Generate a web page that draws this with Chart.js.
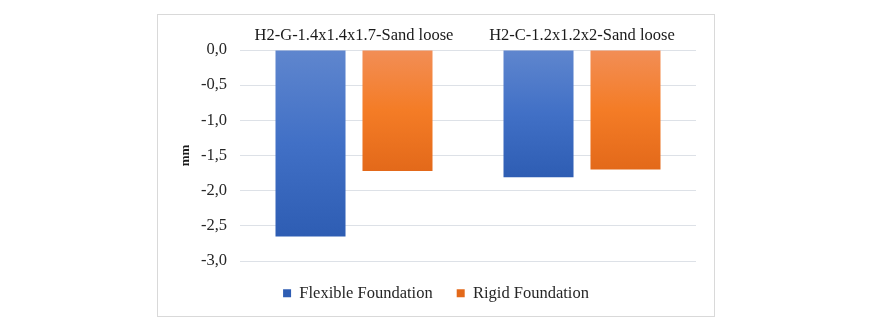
<!DOCTYPE html>
<html>
<head>
<meta charset="utf-8">
<script src="https://cdn.jsdelivr.net/npm/chart.js@4/dist/chart.umd.min.js"></script>
<style>
  body { margin: 0; background: #fff; }
  #box {
    position: absolute; left: 157px; top: 14px;
    width: 556px; height: 301px;
    border: 1px solid #d9d9d9;
  }
</style>
</head>
<body>
<div id="box"><canvas id="chart" width="556" height="301"></canvas></div>
<script>
  const categories = ['H2-G-1.4x1.4x1.7-Sand loose', 'H2-C-1.2x1.2x2-Sand loose'];
  const flexible = [-2.65, -1.81];
  const rigid = [-1.72, -1.70];
  const yTicks = [0, -0.5, -1, -1.5, -2, -2.5, -3];

  const serif = '"Liberation Serif", "Times New Roman", serif';

  // vertical gradient per bar, from the zero line down to the bar end
  function fill(stops, solid) {
    return function (ctx) {
      const chart = ctx.chart;
      if (!chart.chartArea || ctx.type !== 'data') return solid;
      const y = chart.scales.y;
      const top = y.getPixelForValue(0);
      const bot = y.getPixelForValue(ctx.raw);
      if (!isFinite(top) || !isFinite(bot) || top === bot) return solid;
      const g = chart.ctx.createLinearGradient(0, top, 0, bot);
      g.addColorStop(0, stops[0]);
      g.addColorStop(0.5, stops[1]);
      g.addColorStop(1, stops[2]);
      return g;
    };
  }

  new Chart(document.getElementById('chart'), {
    type: 'bar',
    data: {
      labels: categories,
      datasets: [
        {
          label: 'Flexible Foundation',
          data: flexible,
          backgroundColor: fill(['#5f86ce', '#4170c6', '#2e5db3'], '#4472c4'),
          borderWidth: 0,
          barPercentage: 0.805,
          categoryPercentage: 0.763
        },
        {
          label: 'Rigid Foundation',
          data: rigid,
          backgroundColor: fill(['#f28e56', '#f47c26', '#e3691a'], '#ed7d31'),
          borderWidth: 0,
          barPercentage: 0.805,
          categoryPercentage: 0.763
        }
      ]
    },
    options: {
      responsive: false,
      animation: false,
      layout: { padding: { left: 0, right: 0, top: 0, bottom: 4.5 } },
      plugins: {
        tooltip: { enabled: false },
        legend: {
          position: 'bottom',
          labels: {
            boxWidth: 8,
            boxHeight: 8,
            padding: 24,
            color: '#262626',
            font: { family: serif, size: 16.5 }
          }
        }
      },
      scales: {
        x: {
          position: 'top',
          grid: { display: false, drawTicks: false },
          border: { display: false },
          ticks: {
            color: '#1a1a1a',
            padding: 4,
            font: { family: serif, size: 16.5 }
          },
          afterFit: function (s) { s.height = 35; }
        },
        y: {
          min: -3,
          max: 0,
          afterBuildTicks: function (s) { s.ticks = yTicks.map(v => ({ value: v })); },
          grid: { color: '#dde1e7', drawTicks: false },
          border: { display: false },
          ticks: {
            color: '#262626',
            padding: 13,
            font: { family: serif, size: 16.5 },
            callback: v => v.toFixed(1).replace('.', ',')
          },
          title: {
            display: true,
            text: 'mm',
            color: '#1a1a1a',
            padding: { top: 20, bottom: 0 },
            font: { family: serif, size: 13, weight: 'bold' }
          },
          afterFit: function (s) { s.width = 82; }
        },
        // empty right margin so the legend centres on the whole box
        yRight: {
          position: 'right',
          grid: { display: false, drawTicks: false },
          border: { display: false },
          ticks: { display: false },
          afterFit: function (s) { s.width = 18; }
        }
      }
    }
  });
</script>
</body>
</html>
